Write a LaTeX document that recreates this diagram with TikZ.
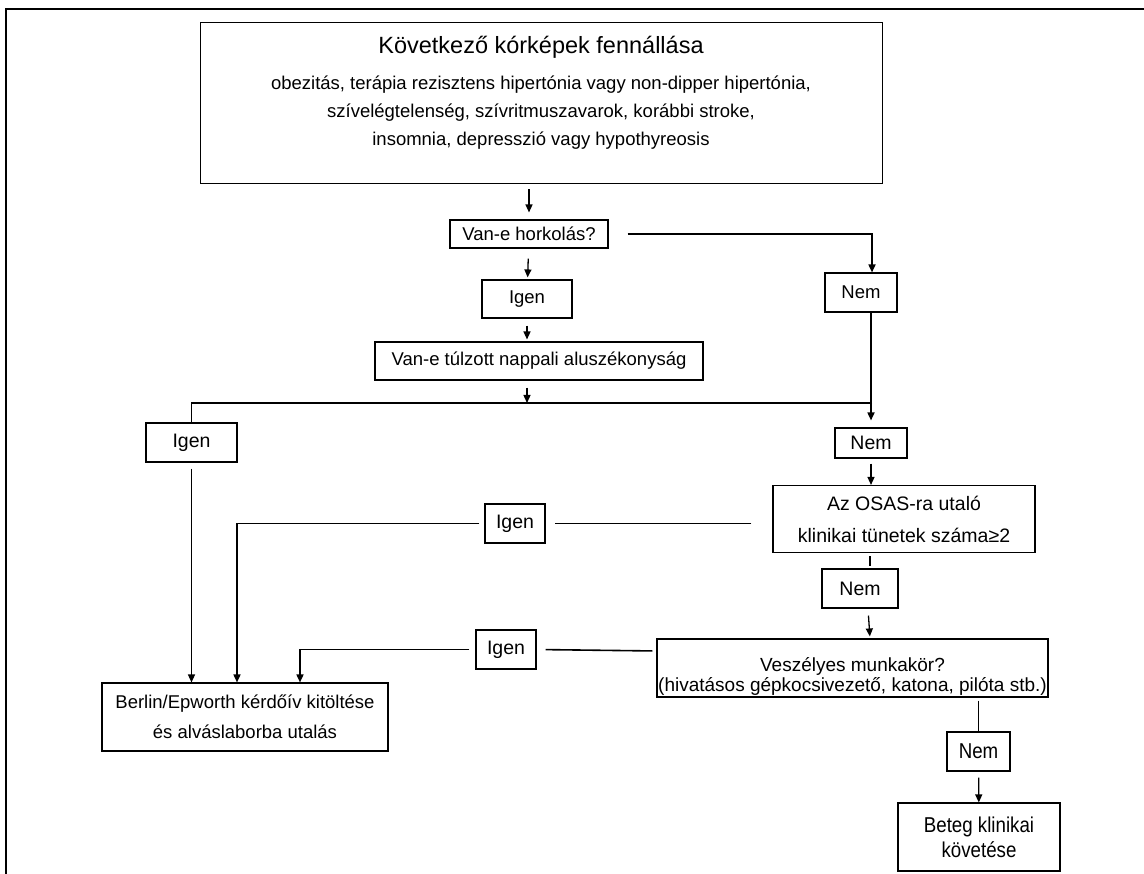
\documentclass[tikz,border=0pt]{standalone}
\usepackage{fontspec}
\setmainfont{Liberation Sans}
\newfontfamily\keskeny[FakeStretch=0.87]{Liberation Sans}
\usetikzlibrary{arrows.meta}
\tikzset{>={Triangle[length=8pt,width=7pt]}}
\tikzset{
    box/.style = {draw, line width=1.1pt, inner sep=0pt, align=center},
    ln/.style = {line width=1.6pt},
    arr/.style = {->, line width=1.3pt, shorten <=5pt, shorten >=2pt},
    kis/.style = {font=\fontsize{18.5}{26}\selectfont},
    kozep/.style = {font=\fontsize{19.5}{24}\selectfont},
    nagy/.style = {font=\keskeny\fontsize{21.5}{25}\selectfont}
}

\begin{document}
\begin{tikzpicture}[x=1pt, y=-1pt]
    \useasboundingbox (0,0) rectangle (1144,874);
    \draw [line width=1.4pt] (6,874) -- (6,9) -- (1144,9);

    \node [box, anchor=north west, minimum width=682pt, minimum height=161pt] (kor) at (200,22) {};
    \node [anchor=base, font=\fontsize{23.5}{28}\selectfont] (cim) at (541,54) {Következő kórképek fennállása};
    \node [anchor=north, align=center, inner sep=0pt, font=\fontsize{18.5}{28}\selectfont] (lista) at (541,76)
        {obezitás, terápia rezisztens hipertónia vagy non-dipper hipertónia,\\
         szívelégtelenség, szívritmuszavarok, korábbi stroke,\\
         insomnia, depresszió vagy hypothyreosis};

    \node [box, kis, minimum width=158pt, minimum height=28pt] (horkolas) at (529,234) {Van-e horkolás?};
    \node [box, kis, minimum width=72pt, minimum height=39pt] (nem1) at (861,292.5) {Nem};
    \node [box, kis, minimum width=90pt, minimum height=38pt] (igen1) at (527,299) {Igen};
    \node [box, kis, minimum width=328pt, minimum height=38pt] (tulzott) at (539,361) {Van-e túlzott nappali aluszékonyság};
    \node [box, kozep, minimum width=91pt, minimum height=39pt] (igen2) at (191.5,442.5) {Igen};
    \node [box, kozep, minimum width=72pt, minimum height=30pt] (nem2) at (871,443) {Nem};
    \node [box, minimum width=262pt, minimum height=67pt, font=\fontsize{19.5}{32}\selectfont] (osas) at (904,519)
        {Az OSAS-ra utaló\\klinikai tünetek száma≥2};
    \node [box, kozep, minimum width=60pt, minimum height=39pt] (igen3) at (515,523.5) {Igen};
    \node [box, kozep, minimum width=76pt, minimum height=39pt] (nem3) at (860,588.5) {Nem};
    \node [box, minimum width=391pt, minimum height=58pt] (vesz) at (852.5,668) {};
    \node [align=center, inner sep=0pt, font=\fontsize{19}{20}\selectfont] (vesztxt) at ([yshift=-8pt]vesz.center)
        {Veszélyes munkakör?\\(hivatásos gépkocsivezető, katona, pilóta stb.)};
    \node [box, kozep, minimum width=60pt, minimum height=39pt] (igen4) at (506,649.5) {Igen};
    \node [box, minimum width=286pt, minimum height=68pt, font=\fontsize{18.5}{30}\selectfont] (berlin) at (245,717)
        {Berlin/Epworth kérdőív kitöltése\\és alváslaborba utalás};
    \node [box, nagy, minimum width=63pt, minimum height=39pt] (nem4) at (978.5,751.5) {Nem};
    \node [box, nagy, minimum width=162pt, minimum height=68pt] (beteg) at (979,837) {Beteg klinikai\\követése};

    \coordinate (elag) at (527,403);
    \coordinate (jobb) at (872,403);

    % felso resz
    \draw [arr, shorten >=7pt] (kor.south -| horkolas) -- (horkolas);
    \draw [ln, ->, shorten <=19pt] (horkolas.east) -| ([xshift=11pt]nem1.north);
    \draw [arr, shorten <=10pt] (horkolas) -- (igen1);
    \draw [arr, shorten <=7pt] (igen1) -- (igen1 |- tulzott.north);
    \draw [arr, shorten <=7pt, shorten >=0pt] (tulzott.south -| elag) -- (elag);
    \draw [ln] (jobb) -| (igen2.north);
    \draw [ln, ->, shorten >=7pt] (nem2 |- nem1.south) -- (nem2);

    % bal oldal
    \draw [arr, shorten <=6pt, shorten >=0pt] (igen2) -- (igen2 |- berlin.north);
    \draw [ln, shorten <=21pt, shorten >=9pt] (osas.west |- igen3) -- (igen3);
    \draw [ln, ->, shorten <=5pt] (igen3.west) -| ([xshift=-8pt]berlin.north);

    % jobb oldal
    \draw [arr, shorten >=0pt] (nem2) -- (nem2 |- osas.north);
    \draw [ln, shorten <=3pt, shorten >=2pt] ([xshift=-34pt]osas.south) -- ([xshift=10pt]nem3.north);
    \draw [arr, shorten <=7pt] ([xshift=8pt]nem3.south) -- ([xshift=17.5pt]vesz.north);
    \draw [ln, shorten <=4pt, shorten >=9pt] ([yshift=17pt]vesz.west) -- (igen4.east);
    \draw [ln, ->, shorten <=6pt] (igen4.west) -| ([xshift=55pt]berlin.north);
    \draw [ln, shorten <=3pt] (nem4 |- vesz.south) -- (nem4);
    \draw [arr, shorten <=6pt, shorten >=0pt] (nem4) -- (beteg);
\end{tikzpicture}
\end{document}
